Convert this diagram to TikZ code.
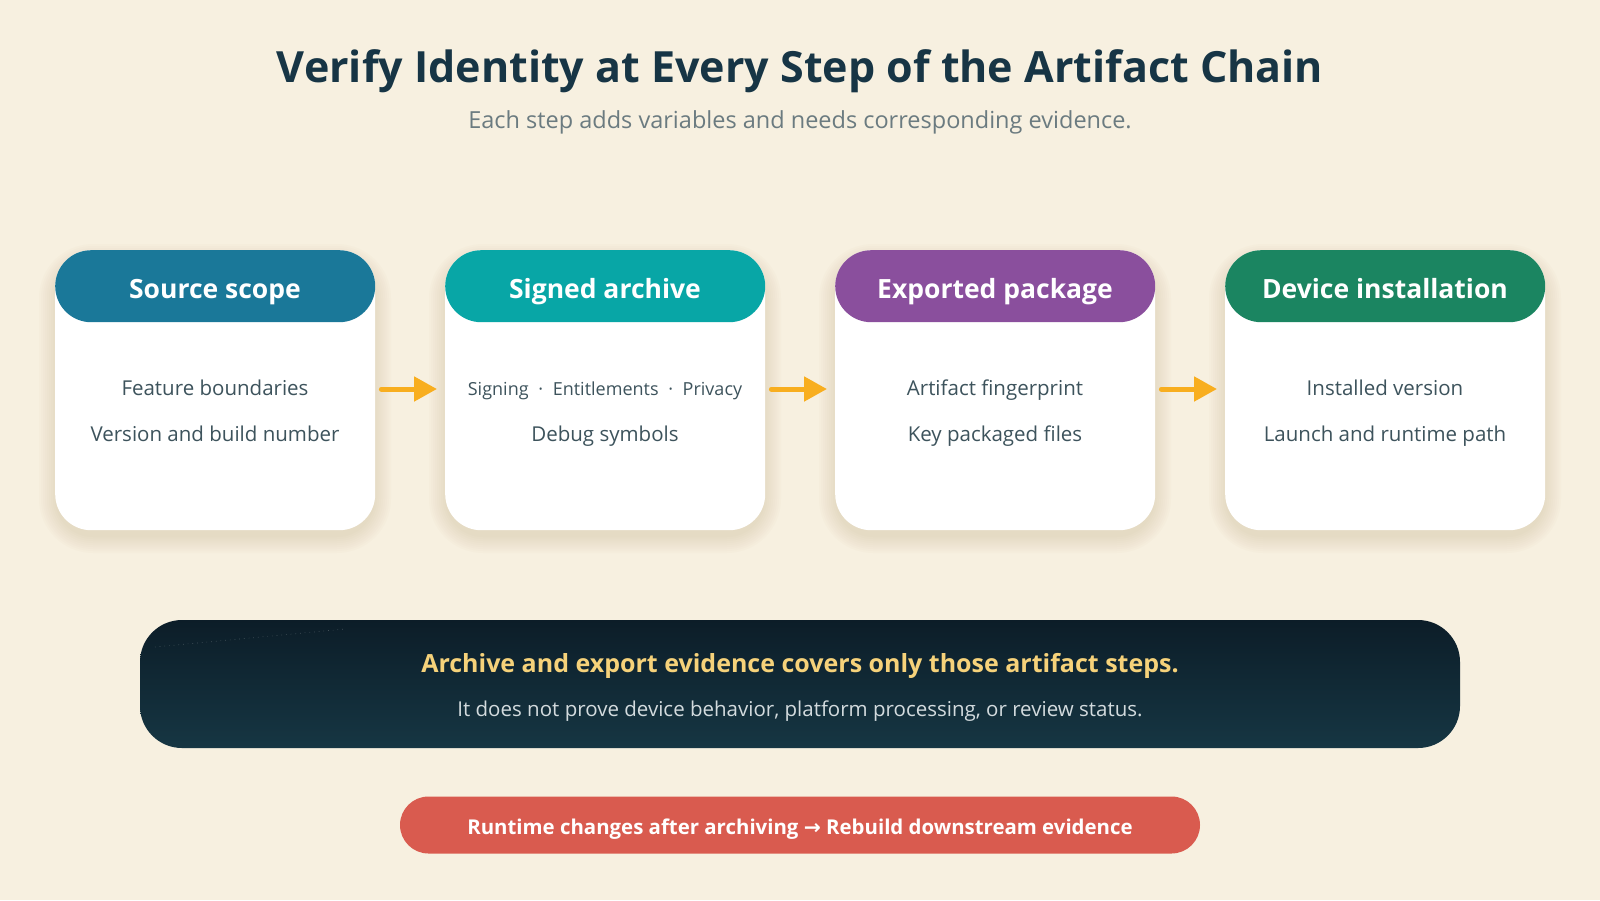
\documentclass[tikz,border=0pt]{standalone}
\usepackage{fontspec}
\setmainfont{Open Sans}
\newfontfamily\symfont{DejaVu Sans}
\usetikzlibrary{arrows.meta,calc}
\definecolor{bg}{HTML}{F7F0E0}
\definecolor{titlec}{HTML}{173545}
\definecolor{subc}{HTML}{6B7B80}
\definecolor{bodyc}{HTML}{3D535C}
\definecolor{hdrA}{HTML}{1A7899}
\definecolor{hdrB}{HTML}{08A6A6}
\definecolor{hdrC}{HTML}{8A4F9D}
\definecolor{hdrD}{HTML}{1B8561}
\definecolor{arrowc}{HTML}{F8AE1F}
\definecolor{shadowc}{HTML}{BFAF88}
\definecolor{banTop}{HTML}{0C1D28}
\definecolor{banBot}{HTML}{163643}
\definecolor{banTitle}{HTML}{F6D27A}
\definecolor{banSub}{HTML}{D3DBDE}
\definecolor{pillc}{HTML}{D95B4F}
\tikzset{
  cardbody/.style={rectangle, fill=white, rounded corners=36pt, minimum width=320pt, minimum height=280pt, inner sep=0pt, anchor=north west},
  cardhead/.style={rectangle, rounded corners=36pt, minimum width=320pt, minimum height=72pt, inner sep=0pt, anchor=north west},
  txt/.style={inner sep=0pt, anchor=base},
  headtext/.style={txt, text=white, font=\fontsize{26.5}{31}\selectfont\bfseries},
  bodytext/.style={txt, text=bodyc, font=\fontsize{20.5}{24}\selectfont},
  smalltext/.style={txt, text=bodyc, font=\fontsize{18}{21}\selectfont},
  flow/.style={draw=arrowc, line width=5pt, line cap=round, -{Triangle[length=23pt,width=24pt]}, shorten <=6pt, shorten >=8pt},
}
\begin{document}
\begin{tikzpicture}[x=1pt,y=-1pt]
\useasboundingbox (0,0) rectangle (1600,900);
\fill[bg] (0,0) rectangle (1600,900);

% title
\node[txt, text=titlec, font=\fontsize{43}{50}\selectfont\bfseries] (title) at (800,82) {Verify Identity at Every Step of the Artifact Chain};
\node[txt, text=subc, font=\fontsize{23.5}{28}\selectfont] (subtitle) at (800,128) {Each step adds variables and needs corresponding evidence.};

% shadows
\foreach \x in {55,445,835,1225}{
  \foreach \s in {2,4,...,18}{
    \fill[shadowc, opacity=0.036, rounded corners=36pt+\s pt] (\x-\s+2, 250-\s+12) rectangle (\x+320+\s-2, 530+\s+5);
  }
}

% cards
\node[cardbody] (card1) at (55,250) {};
\node[cardbody] (card2) at (445,250) {};
\node[cardbody] (card3) at (835,250) {};
\node[cardbody] (card4) at (1225,250) {};

\node[cardhead, fill=hdrA] (head1) at (55,250) {};
\node[cardhead, fill=hdrB] (head2) at (445,250) {};
\node[cardhead, fill=hdrC] (head3) at (835,250) {};
\node[cardhead, fill=hdrD] (head4) at (1225,250) {};

\node[headtext] (h1) at (215,298) {Source scope};
\node[headtext] (h2) at (605,298) {Signed archive};
\node[headtext] (h3) at (995,298) {Exported package};
\node[headtext] (h4) at (1385,298) {Device installation};

\node[bodytext] (t1a) at (215,395) {Feature boundaries};
\node[bodytext] (t1b) at (215,441) {Version and build number};
\node[smalltext] (t2a) at (605,395) {Signing \;·\; Entitlements \;·\; Privacy};
\node[bodytext] (t2b) at (605,441) {Debug symbols};
\node[bodytext] (t3a) at (995,395) {Artifact fingerprint};
\node[bodytext] (t3b) at (995,441) {Key packaged files};
\node[bodytext] (t4a) at (1385,395) {Installed version};
\node[bodytext] (t4b) at (1385,441) {Launch and runtime path};

% arrows
\coordinate (arrowrow) at (0,389);
\draw[flow] (card1.east |- arrowrow) -- (card2.west |- arrowrow);
\draw[flow] (card2.east |- arrowrow) -- (card3.west |- arrowrow);
\draw[flow] (card3.east |- arrowrow) -- (card4.west |- arrowrow);

% banner
\shade[top color=banTop, bottom color=banBot, rounded corners=42pt] (140,620) rectangle (1460,748);
\coordinate (dotA) at (155,647);
\coordinate (dotB) at (345,629);
\draw[white, opacity=0.22, line width=0.7pt, dash pattern=on 0.7pt off 4pt] (dotA) -- (dotB);
\node[txt, text=banTitle, font=\fontsize{25}{30}\selectfont\bfseries] (bantitle) at (800,672) {Archive and export evidence covers only those artifact steps.};
\node[txt, text=banSub, font=\fontsize{20.5}{24}\selectfont] (bansub) at (800,716) {It does not prove device behavior, platform processing, or review status.};

% red pill
\node[fill=pillc, rounded corners=28.5pt, minimum width=800pt, minimum height=57pt, inner sep=0pt] (pill) at (800,825) {};
\node[txt, text=white, font=\fontsize{20.4}{24}\selectfont\bfseries] (pilltext) at (800,834) {Runtime changes after archiving {\symfont →} Rebuild downstream evidence};
\end{tikzpicture}
\end{document}
